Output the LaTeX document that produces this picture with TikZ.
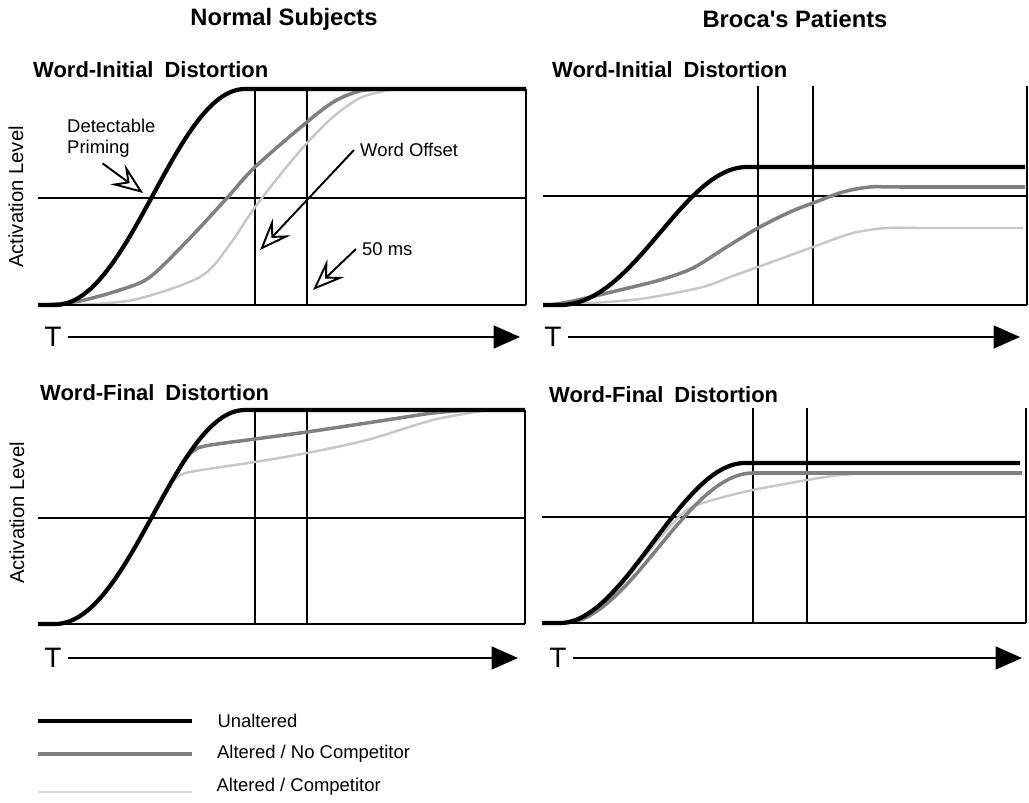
\documentclass[tikz,border=0pt]{standalone}
\usepackage{fontspec}
\setmainfont{Liberation Sans}
\usetikzlibrary{arrows.meta}

\begin{document}
\begin{tikzpicture}[x=0.02cm,y=-0.02cm,
		axis/.style={line width=1.1pt},
		base/.style={line width=1.6pt},
		unalt/.style={line width=2.4pt},
		nocomp/.style={line width=2pt,color=black!50},
		comp/.style={line width=1.4pt,color=black!22},
		timeline/.style={line width=1.1pt,-{Triangle[length=15pt,width=13pt]}},
		hollow/.style={line width=1.1pt,-{Stealth[open,length=18pt,width=14pt,inset=7pt]}},
		title/.style={font=\fontsize{13.5}{16}\selectfont\bfseries},
		panel/.style={font=\fontsize{12.5}{15}\selectfont\bfseries,anchor=west},
		lbl/.style={font=\fontsize{10.5}{12}\selectfont},
		vlbl/.style={font=\fontsize{11.5}{13}\selectfont,rotate=90},
		tlbl/.style={font=\fontsize{16}{18}\selectfont}]
		\useasboundingbox (0,0) rectangle (1029,803);

		\node[title] (normal) at (284,19) {Normal Subjects};
		\node[title] (broca) at (795,19) {Broca\textquotesingle s Patients};

		\node[panel] (tlhead) at (27,70) {Word-Initial\hspace{0.5em}Distortion};
		\node[vlbl] (tlact) at (16,197) {Activation Level};
		\draw[axis] (38,198) -- (526,198);
		\draw[axis] (255,89) -- (255,305) (307,89) -- (307,305) (526,89) -- (526,305);
		\draw[comp] plot[smooth] coordinates {(70,305) (133,300) (200,277) (228,247) (253,210) (280,175) (307,143) (333,117) (360,98) (390,90) (415,89)};
		\draw[nocomp] plot[smooth] coordinates {(45,305) (80,301) (120,290) (150,277) (190,238) (227,198) (255,167) (307,122) (335,101) (360,91) (385,89)};
		\draw[unalt] (38,305) -- (55,305) .. controls (130,305) and (175,89) .. (245,89) -- (526,89);
		\draw[base] (38,305) -- (526,305);
		\node[lbl,align=left,anchor=west] (prime) at (61,138) {Detectable\\Priming};
		\coordinate (primetip) at (143,193);
		\draw[hollow] ([xshift=-5pt]prime.south) -- (primetip);
		\node[lbl,anchor=west] (offset) at (354,150) {Word Offset};
		\coordinate (offtip) at (260,250);
		\draw[hollow] (offset.west) -- (offtip);
		\node[lbl,anchor=west] (ms) at (356,249) {50 ms};
		\coordinate (mstip) at (313,290);
		\draw[hollow] (ms.west) -- (mstip);
		\node[tlbl] (tlT) at (53,337) {T};
		\coordinate (tlend) at (520,337);
		\draw[timeline] (tlT.east) -- (tlend);

		\node[panel] (trhead) at (546,70) {Word-Initial\hspace{0.5em}Distortion};
		\draw[axis] (543,196) -- (1027,196);
		\draw[axis] (758,86) -- (758,305) (813,86) -- (813,305) (1027,86) -- (1027,305);
		\draw[comp] plot[smooth] coordinates {(560,305) (620,301) (653,297) (703,287) (730,277) (758,267) (813,247) (853,233) (887,228) (920,228) (1023,228)};
		\draw[nocomp] plot[smooth] coordinates {(550,305) (573,301) (620,290) (660,280) (693,268) (725,248) (758,228) (790,212) (813,203) (843,192) (870,187) (900,187) (1025,187)};
		\draw[unalt] (543,305) -- (560,305) .. controls (635,305) and (682,167) .. (747,167) -- (1025,167);
		\draw[base] (543,305) -- (1027,305);
		\node[tlbl] (trT) at (553,337) {T};
		\coordinate (trend) at (1020,337);
		\draw[timeline] (trT.east) -- (trend);

		\node[panel] (blhead) at (34,393) {Word-Final\hspace{0.5em}Distortion};
		\node[vlbl] (blact) at (17,513) {Activation Level};
		\draw[axis] (38,518) -- (525,518);
		\draw[axis] (255,410) -- (255,624) (307,410) -- (307,624) (525,410) -- (525,624);
		\draw[comp] plot[smooth] coordinates {(165,492) (175,479) (190,472) (255,462) (307,453) (367,440) (433,420) (483,411) (505,410)};
		\draw[nocomp] plot[smooth] coordinates {(180,466) (192,452) (205,446) (255,439) (307,432) (380,421) (433,413) (470,410)};
		\draw[unalt] (38,624) -- (55,624) .. controls (130,624) and (175,410) .. (245,410) -- (525,410);
		\draw[base] (38,624) -- (525,624);
		\node[tlbl] (blT) at (53,658) {T};
		\coordinate (blend) at (518,658);
		\draw[timeline] (blT.east) -- (blend);

		\node[panel] (brhead) at (543,395) {Word-Final\hspace{0.5em}Distortion};
		\draw[axis] (542,517) -- (1026,517);
		\draw[axis] (753,408) -- (753,623) (807,408) -- (807,623) (1026,408) -- (1026,623);
		\draw[comp] plot[smooth] coordinates {(562,623) (585,619) (610,599) (645,556) (672,524) (690,508) (720,498) (753,490) (807,480) (840,475) (870,473)};
		\draw[nocomp] (542,623) -- (563,623) .. controls (630,623) and (686,473) .. (753,473) -- (1022,473);
		\draw[unalt] (542,623) -- (560,623) .. controls (625,623) and (680,463) .. (745,463) -- (1020,463);
		\draw[base] (542,623) -- (1026,623);
		\node[tlbl] (brT) at (558,658) {T};
		\coordinate (brend) at (1022,658);
		\draw[timeline] (brT.east) -- (brend);

		\draw[unalt] (38,721) -- (192,721) node[lbl,right=10pt] (keyunalt) {Unaltered};
		\draw[nocomp] (38,754) -- (192,754) node[lbl,black,right=10pt] (keynocomp) {Altered / No Competitor};
		\draw[comp,color=black!15] (38,792) -- (192,792) node[lbl,black,right=10pt,yshift=3pt] (keycomp) {Altered / Competitor};
	\end{tikzpicture}
\end{document}
